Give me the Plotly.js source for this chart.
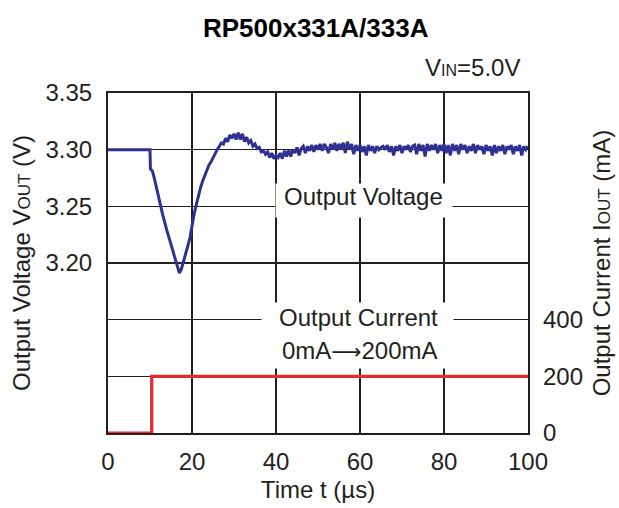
<!DOCTYPE html>
<html>
<head>
<meta charset="utf-8">
<script src="https://cdn.plot.ly/plotly-3.0.1.min.js"></script>
<style>html,body{margin:0;padding:0;background:#fff;}#chart{width:619px;height:508px;}</style>
</head>
<body>
<div id="chart"></div>
<script>
// Output voltage trace (time in µs, voltage in V)
const voltTime = [
  0, 10.0, 10.1, 10.6, 11.2, 12.0, 12.5, 13.0, 14.0, 15.0, 16.0, 16.5, 17.0, 17.5, 18.0, 18.6, 19.0, 19.5,
  20.0, 20.5, 21.0, 21.5, 22.0, 22.5, 23.0, 23.5, 24.0, 24.5, 25.0, 25.5, 26.0, 26.5, 27.0, 27.5, 28.0, 28.5,
  29.0, 29.5, 30.0, 30.5, 31.0, 31.5, 32.0, 32.5, 33.0, 33.5, 34.0, 34.5, 35.0, 35.5, 36.0, 36.5, 37.0, 37.5,
  38.0, 38.5, 39.0, 39.5, 40.0, 40.5, 41.0, 41.5, 42.0, 42.5, 43.0, 43.5, 44.0, 44.5, 45.0, 45.5, 46.0, 46.5,
  47.0, 47.5, 48.0, 48.5, 49.0, 49.5, 50.0, 50.5, 51.0, 51.5, 52.0, 52.5, 53.0, 53.5, 54.0, 54.5, 55.0, 55.5,
  56.0, 56.5, 57.0, 57.5, 58.0, 58.5, 59.0, 59.5, 60.0, 60.5, 61.0, 61.5, 62.0, 62.5, 63.0, 63.5, 64.0, 64.5,
  65.0, 65.5, 66.0, 66.5, 67.0, 67.5, 68.0, 68.5, 69.0, 69.5, 70.0, 70.5, 71.0, 71.5, 72.0, 72.5, 73.0, 73.5,
  74.0, 74.5, 75.0, 75.5, 76.0, 76.5, 77.0, 77.5, 78.0, 78.5, 79.0, 79.5, 80.0, 80.5, 81.0, 81.5, 82.0, 82.5,
  83.0, 83.5, 84.0, 84.5, 85.0, 85.5, 86.0, 86.5, 87.0, 87.5, 88.0, 88.5, 89.0, 89.5, 90.0, 90.5, 91.0, 91.5,
  92.0, 92.5, 93.0, 93.5, 94.0, 94.5, 95.0, 95.5, 96.0, 96.5, 97.0, 97.5, 98.0, 98.5, 99.0, 99.5, 100.0
];
const voltValues = [
  3.300, 3.300, 3.283, 3.281, 3.272, 3.258, 3.250, 3.243, 3.229, 3.216, 3.202, 3.196, 3.191, 3.195, 3.201, 3.208, 3.215, 3.222,
  3.234, 3.243, 3.251, 3.259, 3.266, 3.272, 3.277, 3.281, 3.286, 3.289, 3.293, 3.297, 3.300, 3.303, 3.306, 3.305, 3.310, 3.307,
  3.313, 3.310, 3.314, 3.309, 3.315, 3.309, 3.314, 3.307, 3.311, 3.306, 3.308, 3.303, 3.305, 3.301, 3.302, 3.298, 3.299, 3.296,
  3.298, 3.293, 3.297, 3.292, 3.295, 3.293, 3.297, 3.292, 3.299, 3.294, 3.300, 3.294, 3.300, 3.297, 3.302, 3.295, 3.301, 3.303,
  3.297, 3.303, 3.299, 3.304, 3.298, 3.304, 3.300, 3.305, 3.299, 3.305, 3.302, 3.297, 3.305, 3.300, 3.306, 3.299, 3.305, 3.301,
  3.306, 3.297, 3.307, 3.300, 3.305, 3.296, 3.304, 3.299, 3.304, 3.298, 3.303, 3.295, 3.304, 3.299, 3.303, 3.297, 3.303, 3.300,
  3.302, 3.303, 3.300, 3.304, 3.298, 3.303, 3.295, 3.303, 3.299, 3.304, 3.297, 3.303, 3.300, 3.304, 3.298, 3.303, 3.304, 3.296,
  3.305, 3.299, 3.304, 3.294, 3.305, 3.299, 3.304, 3.300, 3.305, 3.297, 3.304, 3.299, 3.305, 3.297, 3.304, 3.295, 3.305, 3.299,
  3.304, 3.296, 3.305, 3.300, 3.304, 3.297, 3.303, 3.299, 3.305, 3.297, 3.304, 3.300, 3.303, 3.296, 3.304, 3.299, 3.303, 3.295,
  3.304, 3.297, 3.303, 3.299, 3.304, 3.296, 3.303, 3.300, 3.304, 3.296, 3.303, 3.299, 3.304, 3.295, 3.303, 3.300, 3.303
];
// Output current step (time in µs, current in mA)
const currTime = [0, 10.4, 10.4, 100];
const currValues = [0, 0, 200, 200];

// Axis ticks
const xTicks = [0, 20, 40, 60, 80, 100];
const vTickVals = [3.05, 3.10, 3.15, 3.20, 3.25, 3.30, 3.35];
const vTickText = ['', '', '', '3.20', '3.25', '3.30', '3.35'];
const iTickVals = [0, 200, 400];
const iTickText = ['0', '200', '400'];

const ink = '#231f20';
const F = 'Liberation Sans, Arial, Helvetica, sans-serif';
const FS = 24;

const traces = [
  {x: voltTime, y: voltValues, type: 'scatter', mode: 'lines', yaxis: 'y',
   line: {color: '#2e3192', width: 3}, hoverinfo: 'skip', showlegend: false},
  {x: currTime, y: currValues, type: 'scatter', mode: 'lines', yaxis: 'y2',
   line: {color: '#e8292c', width: 3.2}, hoverinfo: 'skip', showlegend: false}
];

const layout = {
  width: 619, height: 508,
  margin: {l: 108, r: 91, t: 93, b: 75, pad: 0},
  paper_bgcolor: '#fff', plot_bgcolor: '#fff',
  font: {family: F, size: FS, color: ink},
  showlegend: false,
  title: {text: '<b>RP500x331A/333A</b>', font: {family: F, size: 26, color: '#000'},
          xref: 'container', x: 0.51, xanchor: 'center', yref: 'container', y: 0.946, yanchor: 'middle'},
  xaxis: {range: [0, 100], tickvals: xTicks, ticktext: xTicks.map(String), ticks: '',
          ticklabelstandoff: 6, showgrid: true, gridcolor: ink, gridwidth: 1.5,
          showline: true, linecolor: ink, linewidth: 2, mirror: true, zeroline: false,
          tickfont: {size: FS, color: ink},
          title: {text: 'Time t (µs)', font: {size: FS, color: ink}, standoff: 7}},
  yaxis: {range: [3.05, 3.35], tickvals: vTickVals, ticktext: vTickText, ticks: '',
          ticklabelstandoff: 9, showgrid: true, gridcolor: ink, gridwidth: 1.5,
          showline: true, linecolor: ink, linewidth: 2, mirror: true, zeroline: false,
          tickfont: {size: FS, color: ink},
          title: {text: 'Output Voltage V<span style="font-size:17px">OUT</span> (V)', font: {size: FS, color: ink}, standoff: 8}},
  yaxis2: {range: [0, 1200], overlaying: 'y', side: 'right', tickvals: iTickVals, ticktext: iTickText,
           ticks: '', ticklabelstandoff: 14, showgrid: false, showline: false, zeroline: false,
           tickfont: {size: FS, color: ink},
           title: {text: 'Output Current I<span style="font-size:17px">OUT</span> (mA)', font: {size: FS, color: ink}, standoff: 11}},
  annotations: [
    // white label boxes that interrupt the grid
    {xref: 'paper', yref: 'paper', x: (364 - 108) / 420, y: (433 - 200.5) / 340, xanchor: 'center', yanchor: 'middle',
     text: ' ', showarrow: false, bgcolor: '#fff', width: 176, height: 33, borderpad: 0},
    {xref: 'paper', yref: 'paper', x: (357.5 - 108) / 420, y: (433 - 335.5) / 340, xanchor: 'center', yanchor: 'middle',
     text: ' ', showarrow: false, bgcolor: '#fff', width: 191, height: 65, borderpad: 0},
    {xref: 'paper', yref: 'paper', x: (363 - 108) / 420, y: (433 - 196) / 340, xanchor: 'center', yanchor: 'middle',
     text: 'Output Voltage', showarrow: false, font: {size: FS, color: ink}},
    {xref: 'paper', yref: 'paper', x: (358 - 108) / 420, y: (433 - 317) / 340, xanchor: 'center', yanchor: 'middle',
     text: 'Output Current', showarrow: false, font: {size: FS, color: ink}},
    {xref: 'paper', yref: 'paper', x: (359.5 - 108) / 420, y: (433 - 350) / 340, xanchor: 'center', yanchor: 'middle',
     text: '0mA<span style="font-family:DejaVu Sans;font-size:21px">⟶</span>200mA', showarrow: false, font: {size: FS, color: ink}},
    {xref: 'paper', yref: 'paper', x: (522 - 108) / 420, y: (433 - 67) / 340, xanchor: 'right', yanchor: 'middle',
     text: 'V<span style="font-size:16px">IN</span>=5.0V', showarrow: false, font: {size: FS, color: ink}}
  ]
};

Plotly.newPlot('chart', traces, layout, {staticPlot: true, displayModeBar: false});
</script>
</body>
</html>
